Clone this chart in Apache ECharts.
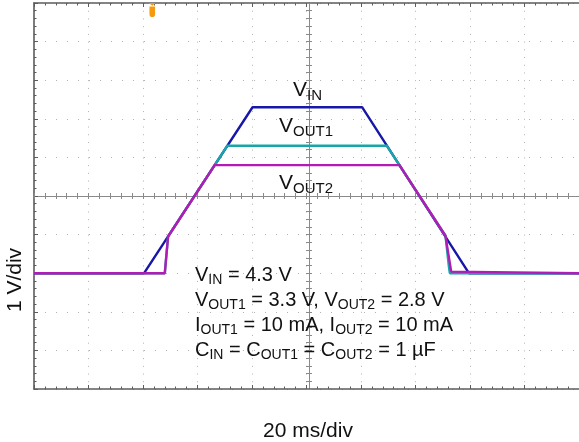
<!DOCTYPE html>
<html>
<head>
<meta charset="utf-8">
<script src="https://cdn.jsdelivr.net/npm/echarts@6/dist/echarts.min.js"></script>
<style>
  html, body { margin: 0; padding: 0; background: #ffffff; }
  #chart { width: 579px; height: 442px; }
</style>
</head>
<body>
<div id="chart"></div>
<script>
// Steady-state levels (V)
const vinLevel = 4.3;
const vout1Level = 3.3;
const vout2Level = 2.8;

// Input supply ramp: time (ms) and voltage (V)
const vinTimeMs = [0, 40.4, 80.2, 120.4, 159.6, 200];
const vinVolts  = [0, 0, vinLevel, vinLevel, 0, 0];

// Output 1: turns on near 1 V, tracks the input, regulates at 3.3 V
const vout1TimeMs = [0, 48.0, 49.2, 70.9, 129.5, 151.0, 152.2, 152.6, 200];
const vout1Volts  = [0, 0, 0.95, vout1Level, vout1Level, 0.97, 0.2, 0, 0];

// Output 2: same turn-on, regulates at 2.8 V
const vout2TimeMs = [0, 48.0, 49.2, 66.3, 134.1, 151.0, 153.1, 153.8, 200];
const vout2Volts  = [0, 0, 0.95, vout2Level, vout2Level, 0.97, 0.04, 0, 0];

// Trigger position (ms)
const triggerTimeMs = 43.4;

// Scope scales: 20 ms/div horizontally, 1 V/div vertically, 10 x 10 divisions
const timeMin = 0, timeMax = 200, timeDiv = 20;
const voltMin = -3, voltMax = 7, voltDiv = 1;

const FONT = '"Liberation Sans", Arial, Helvetica, sans-serif';
const INK = '#111111';

function pairs(ts, vs) { return ts.map((t, i) => [t, vs[i]]); }

const GRID_W = 550, GRID_H = 386;
const borderColor = '#5c5c5c';
const centerColor = '#8a8a8a';
const dotColor = '#b2b2b2';

const xBase = {
  type: 'value', min: timeMin, max: timeMax, interval: timeDiv,
  axisLabel: { show: false }, splitLine: { show: false }
};
const yBase = {
  type: 'value', min: voltMin, max: voltMax, interval: voltDiv,
  axisLabel: { show: false }, splitLine: { show: false }
};
const borderTicks = {
  axisLine: { show: true, onZero: false, lineStyle: { color: borderColor, width: 1.6 } },
  axisTick: { show: true, inside: true, length: 4, lineStyle: { color: borderColor, width: 1 } },
  minorTick: { show: true, splitNumber: 5, length: 2.5, lineStyle: { color: borderColor, width: 1 } }
};
function centerTicks(inside) {
  return {
    axisLine: { show: true, onZero: false, lineStyle: { color: centerColor, width: 1 } },
    axisTick: { show: true, inside: inside, length: 3, lineStyle: { color: centerColor, width: 1 } },
    minorTick: { show: true, splitNumber: 5, length: 3, lineStyle: { color: centerColor, width: 1 } }
  };
}

const xAxes = [
  Object.assign({}, xBase, borderTicks, {
    position: 'bottom',
    splitLine: { show: true, lineStyle: { color: dotColor, width: 1, type: [1, GRID_H / 50 - 1] } }
  }),
  Object.assign({}, xBase, borderTicks, { position: 'top' }),
  Object.assign({}, xBase, centerTicks(true), { position: 'top', offset: -GRID_H / 2 }),
  Object.assign({}, xBase, centerTicks(false), { position: 'top', offset: -GRID_H / 2 })
];
const yAxes = [
  Object.assign({}, yBase, borderTicks, {
    position: 'left',
    splitLine: { show: true, lineStyle: { color: dotColor, width: 1, type: [1, GRID_W / 50 - 1] } }
  }),
  Object.assign({}, yBase, centerTicks(true), { position: 'left', offset: -GRID_W / 2 }),
  Object.assign({}, yBase, centerTicks(false), { position: 'left', offset: -GRID_W / 2 })
];

// Trace labels
const richLabel = {
  m: { fontSize: 21, lineHeight: 25, fontFamily: FONT, fill: INK },
  s: { fontSize: 15, lineHeight: 12, verticalAlign: 'bottom', fontFamily: FONT, fill: INK }
};
// Test-condition block
const richNote = {
  m: { fontSize: 20, lineHeight: 25, fontFamily: FONT, fill: INK },
  s: { fontSize: 14, lineHeight: 12, verticalAlign: 'bottom', fontFamily: FONT, fill: INK }
};

function traceSeries(name, data, color) {
  return {
    name: name, type: 'line', data: data,
    showSymbol: false, symbol: 'none', animation: false,
    lineStyle: { color: color, width: 2.4 }, itemStyle: { color: color }
  };
}

const vinSeries = traceSeries('VIN', pairs(vinTimeMs, vinVolts), '#1717a8');
vinSeries.markPoint = {
  silent: true, animation: false,
  symbol: 'path://M0,0 L10,0 L5,4 Z M1,5 L9,5 L9,16 Q9,20 5,20 Q1,20 1,16 Z',
  symbolSize: [7, 14], symbolOffset: [0, '50%'],
  itemStyle: { color: '#f59a0c' }, label: { show: false },
  data: [{ coord: [triggerTimeMs, voltMax] }]
};

const noteText = [
  '{m|V}{s|IN}{m| = ' + vinLevel + ' V}',
  '{m|V}{s|OUT1}{m| = ' + vout1Level + ' V, V}{s|OUT2}{m| = ' + vout2Level + ' V}',
  '{m|I}{s|OUT1}{m| = 10 mA, I}{s|OUT2}{m| = 10 mA}',
  '{m|C}{s|IN}{m| = C}{s|OUT1}{m| = C}{s|OUT2}{m| = 1 \u00b5F}'
].join('\n');

const chart = echarts.init(document.getElementById('chart'), null, { renderer: 'canvas' });
chart.setOption({
  animation: false,
  backgroundColor: '#ffffff',
  grid: { left: 34, top: 3, width: GRID_W, height: GRID_H, containLabel: false },
  xAxis: xAxes,
  yAxis: yAxes,
  series: [
    vinSeries,
    traceSeries('VOUT1', pairs(vout1TimeMs, vout1Volts), '#17a6a8'),
    traceSeries('VOUT2', pairs(vout2TimeMs, vout2Volts), '#b21cb4')
  ],
  graphic: [
    { type: 'text', left: 293, top: 80, z: 100, style: { text: '{m|V}{s|IN}', rich: richLabel } },
    { type: 'text', left: 279, top: 116, z: 100, style: { text: '{m|V}{s|OUT1}', rich: richLabel } },
    { type: 'text', left: 279, top: 173, z: 100, style: { text: '{m|V}{s|OUT2}', rich: richLabel } },
    { type: 'text', left: 195, top: 265, z: 100, style: { text: noteText, rich: richNote } },
    { type: 'text', x: 15, y: 280, rotation: Math.PI / 2, z: 100,
      style: { text: '1 V/div', font: '21px ' + FONT, fill: INK, align: 'center', verticalAlign: 'middle' } },
    { type: 'text', x: 308, y: 431, z: 100,
      style: { text: '20 ms/div', font: '21px ' + FONT, fill: INK, align: 'center', verticalAlign: 'middle' } }
  ]
});
</script>
</body>
</html>
